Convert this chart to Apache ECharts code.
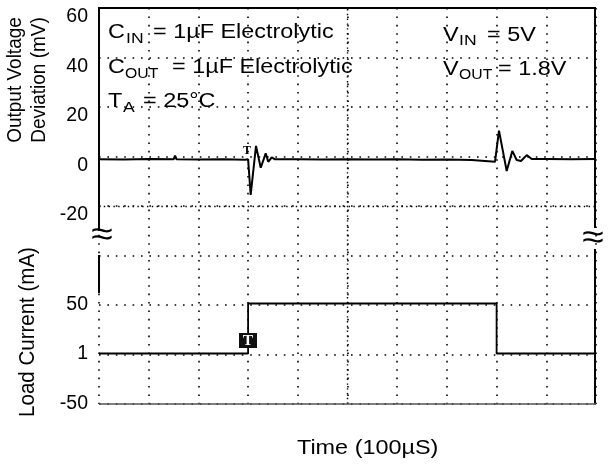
<!DOCTYPE html>
<html><head><meta charset="utf-8">
<script src="https://cdn.jsdelivr.net/npm/echarts@6/dist/echarts.min.js"></script>
<style>html,body{margin:0;padding:0;background:#fff}#c{width:608px;height:466px}</style>
</head><body><div id="c"></div>
<script>
// ---- data (time in divisions of 100 µs) ----
const voltageTime = [0, 0.5, 1.0, 1.5, 1.53, 1.56, 2.0, 2.5, 2.94, 3.0, 3.024, 3.052, 3.159, 3.254, 3.354, 3.406, 3.475, 3.541, 4.0, 4.5, 5.0, 5.5, 6.0, 6.5, 7.0, 7.5, 7.968, 8.008, 8.048, 8.203, 8.316, 8.404, 8.491, 8.606, 8.706, 9.0, 9.5, 10];
const voltageMv   = [2.5, 2.4, 2.6, 2.5, 4.0, 2.5, 2.4, 2.5, 2.3, 2.5, 2.0, -11.9, 7.9, -0.9, 4.9, 1.5, 3.3, 2.5, 2.5, 2.4, 2.5, 2.4, 2.5, 2.3, 2.4, 2.2, 1.5, 2.2, 14.1, -2.2, 5.9, 2.2, 1.8, 4.2, 2.6, 2.6, 2.5, 2.6];
const currentTime = [0, 3, 3, 8, 8, 10];
const currentMa   = [1, 1, 51.5, 51.5, 1, 1];
const voltageTicks = [-20, 0, 20, 40, 60];
const currentTicks = [-50, 1, 50];

const chart = echarts.init(document.getElementById('c'), null, {renderer: 'canvas'});
const F = '"Liberation Sans", Arial, sans-serif';
const SERIF = '"Liberation Serif", "Times New Roman", serif';
function txt(text, x, y, size, o) {
  o = o || {};
  return {
    type: 'text', x: x, y: y, z: o.z || 50,
    scaleX: o.sx != null ? o.sx : 1.2, scaleY: o.sy != null ? o.sy : 1,
    rotation: o.rot || 0,
    style: {
      text: text, x: 0, y: 0,
      font: (o.weight || 'normal') + ' ' + size + 'px ' + (o.family || F),
      fill: o.fill || '#000',
      align: o.align || 'left', verticalAlign: 'middle',
      textAlign: o.align || 'left', textVerticalAlign: 'middle'
    }
  };
}
function seg(x1, y1, x2, y2, w, c) {
  return { type: 'line', z: 40, shape: {x1: x1, y1: y1, x2: x2, y2: y2}, style: {stroke: c || '#000', lineWidth: w || 2} };
}

const L = 99, W = 497, T = 8, B = 404;
const zeroV = 165.5, pxPerDiv = 49.5;
const vTop = 8, vBot = 236;
const vMax = (zeroV - vTop) / pxPerDiv * 20, vMin = -(vBot - zeroV) / pxPerDiv * 20;
const cTop = 240, zeroC = 354.5;
const cMax = (zeroC - cTop) / pxPerDiv * 50;

const dots = {type: [1.6, 6.8], color: '#000', width: 1.6};
const labelStyle = {fontSize: 19.5, color: '#000', fontFamily: F, margin: 11};

const option = {
  animation: false,
  backgroundColor: '#fff',
  grid: [
    {left: L, top: T, width: W, height: B - T},
    {left: L, top: vTop, width: W, height: vBot - vTop},
    {left: L, top: cTop, width: W, height: B - cTop}
  ],
  xAxis: [
    {gridIndex: 0, type: 'value', min: 0, max: 10, interval: 1, axisLine: {show: false}, axisTick: {show: false}, axisLabel: {show: false}, splitLine: {show: true, lineStyle: dots}},
    {gridIndex: 1, type: 'value', min: 0, max: 10, show: false},
    {gridIndex: 2, type: 'value', min: 0, max: 10, show: false}
  ],
  yAxis: [
    {gridIndex: 0, type: 'value', min: 0, max: 8, interval: 1, axisLine: {show: false}, axisTick: {show: false}, axisLabel: {show: false}, splitLine: {show: true, lineStyle: dots}},
    {gridIndex: 1, type: 'value', min: vMin, max: vMax, axisLine: {show: false}, axisTick: {show: false}, splitLine: {show: false},
      axisLabel: Object.assign({customValues: voltageTicks, showMinLabel: true, showMaxLabel: true}, labelStyle)},
    {gridIndex: 2, type: 'value', min: -50, max: cMax, axisLine: {show: false}, axisTick: {show: false}, splitLine: {show: false},
      axisLabel: Object.assign({customValues: currentTicks, showMinLabel: true, showMaxLabel: true}, labelStyle)}
  ],
  series: [
    {type: 'line', xAxisIndex: 0, yAxisIndex: 0, data: [[0, -1]], showSymbol: false, silent: true,
      lineStyle: {width: 0},
      markLine: {silent: true, symbol: 'none', label: {show: false},
        lineStyle: {type: [1.4, 3.4], color: '#000', width: 1.4},
        data: [{xAxis: 5}, {yAxis: 4}]}},
    {type: 'line', xAxisIndex: 1, yAxisIndex: 1, showSymbol: false, z: 5,
      lineStyle: {color: '#000', width: 2},
      data: voltageTime.map((t, i) => [t, voltageMv[i]])},
    {type: 'line', xAxisIndex: 2, yAxisIndex: 2, showSymbol: false, z: 5,
      lineStyle: {color: '#000', width: 1.8},
      data: currentTime.map((t, i) => [t, currentMa[i]])}
  ],
  graphic: [
    seg(98, 8, 596, 8, 2),
    seg(99, 8, 99, 231, 2),
    seg(99, 255, 99, 293, 2),
    seg(595, 8, 595, 228, 2),
    seg(595, 249, 595, 404, 2),
    seg(99, 404, 596, 404, 1.5, '#555'),
    txt('\u2248', 102, 236, 34, {align: 'center', sx: 1.15}),
    txt('\u2248', 593, 239, 34, {align: 'center', sx: 1.15}),
    txt('C', 108, 33, 19.5), txt('IN', 126, 38.5, 15, {sx: 1.17}), txt('= 1\u00b5F Electrolytic', 153, 33, 19.5),
    txt('C', 108, 68, 19.5), txt('OUT', 125, 73.5, 15, {sx: 1.05}), txt('= 1\u00b5F Electrolytic', 172, 68, 19.5),
    txt('T', 108, 102, 19.5), txt('A', 123, 107.5, 15, {sx: 1.17}), txt('= 25\u00b0C', 143, 102, 19.5),
    txt('V', 443, 35.5, 19.5), txt('IN', 459, 41, 15, {sx: 1.17}), txt('= 5V', 487, 35.5, 19.5),
    txt('V', 443, 69.5, 19.5), txt('OUT', 459, 75, 15, {sx: 1.05}), txt('= 1.8V', 498, 69.5, 19.5),
    txt('Output Voltage', 15, 80, 19, {align: 'center', rot: Math.PI / 2, sx: 1, sy: 1.1}),
    txt('Deviation (mV)', 39, 80, 19, {align: 'center', rot: Math.PI / 2, sx: 1, sy: 1.1}),
    txt('Load Current (mA)', 28, 332, 20.5, {align: 'center', rot: Math.PI / 2, sx: 1, sy: 1.1}),
    txt('Time (100\u00b5S)', 297, 448.5, 20, {sx: 1.17}),
    txt('T', 247, 151, 12, {align: 'center', weight: 'bold', family: SERIF, sx: 1}),
    {type: 'rect', z: 60, shape: {x: 239, y: 333, width: 18, height: 15}, style: {fill: '#111'}},
    txt('T', 248, 341, 14, {align: 'center', weight: 'bold', family: SERIF, fill: '#fff', sx: 1.1, z: 70})
  ]
};
chart.setOption(option);
</script>
</body></html>
